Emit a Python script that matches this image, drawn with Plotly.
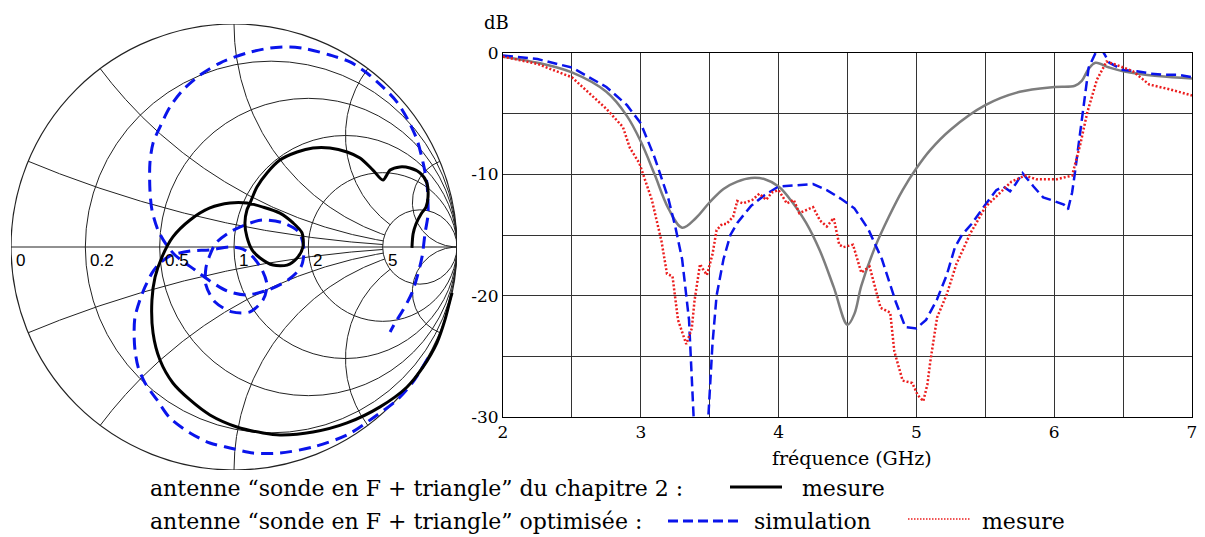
import numpy as np
import plotly.graph_objects as go

# page is shown with an 8px body margin: build the figure so page pixels line up
OFF = 8
FW, FH = 1205 - OFF, 537 - OFF

# ---------------- Smith chart data (reflection coefficient) -------------
# antenne "sonde en F + triangle" du chapitre 2 : mesure (black)
ch2_gamma_re = [0.978, 0.969, 0.946, 0.910, 0.848, 0.776, 0.655, 0.507, 0.354, 0.206, 0.130, 0.013,
                -0.108, -0.197, -0.274, -0.332, -0.363, -0.368, -0.354, -0.323, -0.274, -0.197, -0.108,
                -0.018, 0.058, 0.130, 0.206, 0.265, 0.305, 0.309, 0.283, 0.238, 0.175, 0.117, 0.081,
                0.058, 0.049, 0.058, 0.072, 0.103, 0.148, 0.206, 0.283, 0.354, 0.430, 0.507, 0.565,
                0.623, 0.668, 0.700, 0.744, 0.789, 0.834, 0.865, 0.870, 0.861, 0.839, 0.816, 0.803, 0.798]
ch2_gamma_im = [-0.206, -0.238, -0.327, -0.430, -0.538, -0.628, -0.717, -0.789, -0.830, -0.843, -0.834,
                -0.807, -0.753, -0.686, -0.610, -0.507, -0.386, -0.238, -0.135, -0.045, 0.045, 0.121,
                0.175, 0.197, 0.197, 0.179, 0.152, 0.108, 0.063, 0.000, -0.049, -0.081, -0.081, -0.049,
                -0.013, 0.045, 0.108, 0.166, 0.197, 0.269, 0.332, 0.390, 0.426, 0.444, 0.444, 0.426,
                0.399, 0.345, 0.300, 0.345, 0.359, 0.354, 0.332, 0.287, 0.224, 0.179, 0.148, 0.103,
                0.058, -0.004]

# antenne optimisée : simulation (blue dashed)
sim_gamma_re = [0.870, 0.803, 0.731, 0.623, 0.507, 0.354, 0.206, 0.085, -0.018, -0.108, -0.197, -0.287,
                -0.345, -0.399, -0.430, -0.444, -0.448, -0.444, -0.422, -0.399, -0.368, -0.341, -0.287,
                -0.197, -0.108, -0.018, 0.040, 0.085, 0.126, 0.148, 0.130, 0.072, -0.009, -0.085, -0.126,
                -0.126, -0.108, -0.081, -0.018, 0.049, 0.126, 0.220, 0.291, 0.314, 0.300, 0.242, 0.152,
                0.058, -0.031, -0.108, -0.175, -0.265, -0.305, -0.341, -0.368, -0.377, -0.377, -0.363,
                -0.332, -0.287, -0.229, -0.152, -0.063, 0.058, 0.161, 0.251, 0.327, 0.430, 0.520, 0.596,
                0.668, 0.731, 0.780, 0.821, 0.848, 0.865, 0.870, 0.870, 0.857, 0.843, 0.821, 0.798,
                0.758, 0.722, 0.700]
sim_gamma_im = [-0.498, -0.605, -0.686, -0.767, -0.843, -0.897, -0.924, -0.924, -0.901, -0.879, -0.834,
                -0.767, -0.686, -0.610, -0.538, -0.462, -0.386, -0.314, -0.238, -0.179, -0.117, -0.081,
                -0.040, -0.018, -0.013, 0.000, -0.009, -0.045, -0.103, -0.170, -0.238, -0.291, -0.291,
                -0.247, -0.170, -0.094, -0.036, 0.018, 0.067, 0.099, 0.121, 0.108, 0.067, -0.013, -0.090,
                -0.148, -0.193, -0.215, -0.197, -0.152, -0.103, -0.036, 0.013, 0.076, 0.166, 0.256, 0.377,
                0.466, 0.538, 0.628, 0.704, 0.771, 0.825, 0.870, 0.892, 0.897, 0.888, 0.861, 0.830, 0.780,
                0.717, 0.650, 0.570, 0.480, 0.377, 0.287, 0.197, 0.143, 0.063, -0.045, -0.135, -0.206,
                -0.283, -0.341, -0.381]

smith_resistance_circles = [0.2, 0.5, 1, 2, 5]
smith_reactance_arcs = [0.2, 0.5, 1, 2, 5]
smith_labels = ["0", "0.2", "0.5", "1", "2", "5"]
smith_label_values = [0, 0.2, 0.5, 1, 2, 5]

# ---------------- |S11| vs frequency data ----------------
freq_ch2 = [2.0, 2.25, 2.5, 2.75, 2.9, 3.0, 3.1, 3.2, 3.3, 3.4, 3.5, 3.6, 3.7, 3.8, 3.9, 4.0, 4.1, 4.2,
            4.3, 4.4, 4.5, 4.55, 4.6, 4.7, 4.8, 4.9, 5.0, 5.1, 5.25, 5.5, 5.75, 6.0, 6.15, 6.2, 6.25,
            6.3, 6.4, 6.5, 6.75, 7.0]
db_ch2 = [-0.3, -0.8, -1.6, -3.2, -5.2, -7.3, -10.0, -12.8, -14.4, -13.6, -12.3, -11.2, -10.6, -10.3,
          -10.4, -11.0, -12.3, -14.0, -16.3, -19.3, -22.4, -21.5, -19.2, -16.0, -13.5, -11.3, -9.5, -8.0,
          -6.3, -4.3, -3.2, -2.8, -2.7, -2.3, -1.3, -0.8, -1.2, -1.5, -1.9, -2.1]

freq_sim = [2.0, 2.25, 2.5, 2.75, 2.9, 3.0, 3.1, 3.2, 3.25, 3.3, 3.35, 3.38, 3.40, 3.47, 3.49, 3.52,
            3.55, 3.6, 3.65, 3.7, 3.8, 3.9, 4.0, 4.1, 4.25, 4.35, 4.45, 4.55, 4.65, 4.75, 4.85, 4.92,
            5.0, 5.07, 5.15, 5.22, 5.28, 5.33, 5.4, 5.5, 5.58, 5.63, 5.68, 5.72, 5.77, 5.85, 5.92, 6.0,
            6.07, 6.1, 6.13, 6.15, 6.2, 6.25, 6.3, 6.35, 6.4, 6.5, 6.6, 6.7, 6.8, 6.9, 7.0]
db_sim = [-0.2, -0.5, -1.2, -2.8, -4.3, -5.8, -8.6, -12.0, -14.3, -17.0, -22.0, -30.0, -34.0, -34.0,
          -30.0, -24.0, -20.0, -17.0, -15.0, -14.0, -12.6, -11.7, -11.0, -10.9, -10.8, -11.3, -12.0,
          -12.8, -14.5, -17.0, -20.5, -22.6, -22.7, -22.0, -20.3, -18.3, -16.0, -15.0, -14.1, -12.5,
          -11.3, -11.0, -11.4, -10.8, -9.9, -11.0, -11.9, -12.2, -12.5, -12.9, -11.5, -9.9, -5.5,
          -1.2, 0.0, 0.2, -0.8, -1.4, -1.5, -1.7, -1.8, -1.8, -2.0]

freq_opt = [2.0, 2.25, 2.5, 2.75, 2.87, 2.92, 2.99, 3.08, 3.15, 3.19, 3.23, 3.27, 3.33, 3.37, 3.39,
            3.43, 3.45, 3.48, 3.52, 3.55, 3.59, 3.62, 3.67, 3.70, 3.74, 3.81, 3.86, 3.91, 3.95, 4.0,
            4.06, 4.11, 4.15, 4.25, 4.30, 4.35, 4.40, 4.44, 4.47, 4.54, 4.60, 4.66, 4.74, 4.81, 4.84,
            4.90, 4.97, 5.01, 5.05, 5.08, 5.10, 5.15, 5.22, 5.29, 5.39, 5.50, 5.60, 5.69, 5.79, 5.87,
            6.02, 6.13, 6.19, 6.24, 6.31, 6.38, 6.48, 6.57, 6.69, 6.84, 7.0]
db_opt = [-0.3, -0.9, -2.0, -4.6, -6.1, -7.8, -9.1, -12.1, -15.5, -18.2, -18.4, -22.0, -24.0, -22.7,
          -20.4, -17.4, -17.8, -18.3, -16.6, -14.6, -14.1, -14.1, -13.5, -12.2, -12.4, -12.1, -11.6,
          -12.1, -11.5, -11.3, -12.4, -12.1, -13.2, -12.7, -13.8, -14.3, -13.6, -15.8, -16.0, -15.8,
          -18.1, -17.6, -21.0, -21.4, -24.6, -27.0, -27.2, -28.2, -28.7, -27.3, -25.5, -21.8, -19.9,
          -17.4, -14.9, -12.7, -11.6, -10.6, -10.1, -10.4, -10.4, -10.1, -7.5, -4.9, -2.2, -0.7,
          -1.1, -1.5, -2.6, -3.0, -3.5]

x_tickvals = [2, 2.5, 3, 3.5, 4, 4.5, 5, 5.5, 6, 6.5, 7]
x_ticktext = ["2", "", "3", "", "4", "", "5", "", "6", "", "7"]
y_tickvals = [0, -5, -10, -15, -20, -25, -30]
y_ticktext = ["0", "", "-10", "", "-20", "", "-30"]

legend_row1 = "antenne \u201csonde en F + triangle\u201d du chapitre 2 :"
legend_row2 = "antenne \u201csonde en F + triangle\u201d optimis\u00e9e :"

BLACK = "black"
BLUE = "rgb(10,20,235)"
RED = "rgb(235,30,30)"
GRAY = "rgb(125,125,125)"
GRID = "#222"
SERIF = "DejaVu Serif"


def px(x):
    return (x - OFF) / FW


def py(y):
    return 1 - (y - OFF) / FH


fig = go.Figure()

# ---- Smith chart grid (computed from the impedance definition) ----
R_STOP = 5  # reactance arcs stop at this resistance circle except the outer ones
gx, gy = [], []
for xv in smith_reactance_arcs:
    r_max = R_STOP if xv < 5 else 1e5
    r = np.concatenate([[0.0], np.geomspace(1e-3, r_max, 500)])
    for s in (1, -1):
        g = (r + 1j * s * xv - 1) / (r + 1j * s * xv + 1)
        gx += list(g.real) + [None]
        gy += list(g.imag) + [None]
fig.add_trace(go.Scatter(x=gx, y=gy, xaxis="x2", yaxis="y2", mode="lines",
                         line=dict(color=GRID, width=1), hoverinfo="skip"))

shapes = []
for rv in [0] + smith_resistance_circles:
    shapes.append(dict(type="circle", xref="x2", yref="y2", x0=(rv - 1) / (rv + 1), x1=1,
                       y0=-1 / (rv + 1), y1=1 / (rv + 1), line=dict(color=GRID, width=1.2 if rv == 0 else 1),
                       layer="below"))
shapes.append(dict(type="line", xref="x2", yref="y2", x0=-1, x1=1, y0=0, y1=0,
                   line=dict(color=GRID, width=1), layer="below"))

fig.add_trace(go.Scatter(x=sim_gamma_re, y=sim_gamma_im, xaxis="x2", yaxis="y2", mode="lines",
                         line=dict(color=BLUE, width=3, dash="12px,7px", shape="spline", smoothing=0.8)))
fig.add_trace(go.Scatter(x=ch2_gamma_re, y=ch2_gamma_im, xaxis="x2", yaxis="y2", mode="lines",
                         line=dict(color=BLACK, width=3, shape="spline", smoothing=0.8)))

# ---- |S11| chart ----
fig.add_trace(go.Scatter(x=freq_ch2, y=db_ch2, mode="lines", line=dict(color=GRAY, width=2.5, shape="spline")))
fig.add_trace(go.Scatter(x=freq_sim, y=db_sim, mode="lines", line=dict(color=BLUE, width=2.5, dash="10px,5px")))
fig.add_trace(go.Scatter(x=freq_opt, y=db_opt, mode="lines", line=dict(color=RED, width=2.5, dash="2px,2px")))

fig.update_layout(
    width=FW, height=FH, margin=dict(l=0, r=0, t=0, b=0, autoexpand=False),
    paper_bgcolor="white", plot_bgcolor="white", showlegend=False,
    xaxis2=dict(domain=[px(11), px(457)], range=[-1.0, 1.0], visible=False, anchor="y2", automargin=False),
    yaxis2=dict(domain=[py(470), py(24)], range=[-1.0, 1.0], visible=False, anchor="x2", automargin=False),
    xaxis=dict(domain=[px(503), px(1192)], range=[2, 7], tickmode="array", tickvals=x_tickvals,
               ticktext=x_ticktext, showgrid=True, gridcolor="#333", gridwidth=1, zeroline=False,
               showline=True, mirror=True, linecolor="black", linewidth=1, ticks="", automargin=False,
               tickfont=dict(family=SERIF, size=17, color="black")),
    yaxis=dict(domain=[py(417), py(53)], range=[-30, 0], tickmode="array", tickvals=y_tickvals,
               ticktext=y_ticktext, showgrid=True, gridcolor="#333", gridwidth=1, zeroline=False,
               showline=True, mirror=True, linecolor="black", linewidth=1, ticks="", automargin=False,
               tickfont=dict(family=SERIF, size=17, color="black")),
)

annotations = [
    dict(text="dB", x=px(482), y=py(22), xanchor="left", yanchor="middle", font=dict(family=SERIF, size=18)),
    dict(text="fr\u00e9quence (GHz)", x=px(852), y=py(458), xanchor="center", yanchor="middle",
         font=dict(family=SERIF, size=19)),
    dict(text=legend_row1, x=px(148), y=py(488), xanchor="left", yanchor="middle", font=dict(family=SERIF, size=22)),
    dict(text="mesure", x=px(800), y=py(488), xanchor="left", yanchor="middle", font=dict(family=SERIF, size=22)),
    dict(text=legend_row2, x=px(148), y=py(521), xanchor="left", yanchor="middle", font=dict(family=SERIF, size=22)),
    dict(text="simulation", x=px(752), y=py(521), xanchor="left", yanchor="middle", font=dict(family=SERIF, size=22)),
    dict(text="mesure", x=px(980), y=py(521), xanchor="left", yanchor="middle", font=dict(family=SERIF, size=22)),
]
for a in annotations:
    a.update(xref="paper", yref="paper", showarrow=False)
    a["font"]["color"] = "black"

# Smith real-axis labels placed at the resistance-circle crossings
for lab, rv in zip(smith_labels, smith_label_values):
    annotations.append(dict(text=lab, x=(rv - 1) / (rv + 1), y=0, xref="x2", yref="y2", showarrow=False,
                            xanchor="left", yanchor="top", xshift=3, yshift=-2,
                            font=dict(family="Liberation Sans", size=17, color="black")))
fig.update_layout(annotations=annotations)

legend_shapes = [
    dict(x0=px(730), x1=px(782), y0=py(487), y1=py(487), line=dict(color=BLACK, width=3)),
    dict(x0=px(668), x1=px(740), y0=py(521), y1=py(521), line=dict(color=BLUE, width=3, dash="10px,5px")),
    dict(x0=px(908), x1=px(970), y0=py(519), y1=py(519), line=dict(color=RED, width=1.5, dash="1.5px,1.5px")),
]
for s in legend_shapes:
    s.update(type="line", xref="paper", yref="paper")
fig.update_layout(shapes=shapes + legend_shapes)

fig.write_html("out.html")
